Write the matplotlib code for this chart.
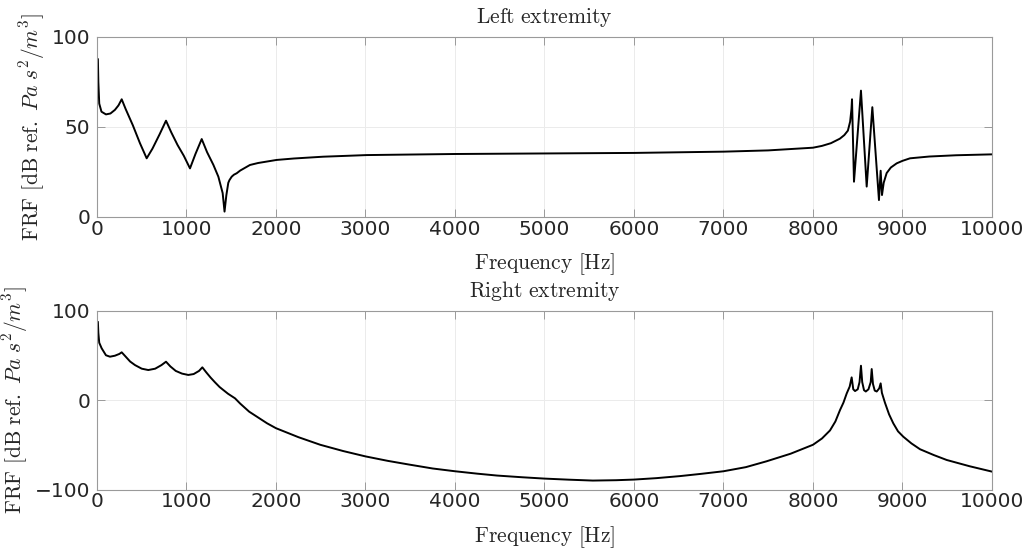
import matplotlib
matplotlib.use("Agg")
import matplotlib.pyplot as plt

# ---- data ----
top_freq = [10, 15, 25, 50, 100, 150, 200, 240, 276, 320, 400, 480, 555, 620, 700, 771,
            830, 900, 970, 1039, 1100, 1170, 1230, 1300, 1356, 1404, 1425, 1445, 1467,
            1480, 1505, 1530, 1561, 1600, 1709, 1800, 2007, 2200, 2527, 2800, 3013,
            3500, 4000, 5000, 6000, 7000, 7500, 8000, 8100, 8200, 8300, 8350, 8390,
            8415, 8430, 8436, 8458, 8536, 8600, 8663, 8737, 8756, 8771, 8790,
            8823, 8870, 8935, 9000, 9084, 9300, 9600, 10000]
top_db = [87.6, 75, 63, 58.5, 57, 57.5, 59.5, 62, 65.4, 60, 51, 41, 32.6, 38, 46, 53.5,
          47, 40, 34, 27, 35, 43.3, 36, 29, 22.4, 13.3, 3, 12, 19,
          20.5, 22.4, 23.5, 24.3, 25.8, 28.9, 30, 31.7, 32.5, 33.5, 34, 34.4,
          34.7, 35, 35.3, 35.6, 36.3, 37, 38.5, 39.5, 41, 43.5, 45.5, 48,
          53, 60, 65.4, 19.6, 70.2, 16.9, 61, 9.4, 25.7, 12.2, 19,
          24.4, 27.5, 29.8, 31.2, 32.6, 33.6, 34.3, 34.8]

bot_freq = [10, 15, 25, 52, 100, 145, 200, 250, 276, 320, 370, 425, 500, 573, 650, 720,
            771, 820, 880, 950, 1020, 1080, 1140, 1177, 1220, 1270, 1318, 1370, 1411,
            1464, 1542, 1600, 1700, 1800, 1900, 2000, 2250, 2494, 2750, 3000, 3250,
            3480, 3750, 4000, 4250, 4470, 4750, 5000, 5270, 5540, 5800, 6000, 6250,
            6515, 6750, 7000, 7250, 7480, 7750, 8000, 8100, 8190, 8250, 8302, 8340,
            8377, 8410, 8432, 8450, 8470, 8500, 8520, 8536, 8550, 8570, 8590, 8620,
            8645, 8656, 8670, 8690, 8712, 8740, 8756, 8770, 8804, 8850, 8897, 8950,
            9009, 9100, 9196, 9350, 9494, 9750, 10000]
bot_db = [87, 75, 64, 57.8, 50, 48.4, 49.5, 51.5, 53.3, 48.5, 43, 39, 35, 33.5, 35, 39,
          42.8, 37.5, 32.5, 29.5, 28, 29, 32.5, 36.5, 31, 25, 19.8, 14.5, 11.2,
          7, 1.9, -4, -13, -19.5, -26, -31.5, -41.5, -50, -57, -63, -68,
          -72, -76.5, -79.6, -82.3, -84.4, -86.3, -87.8, -89, -90, -89.6, -88.9, -87.3,
          -85, -82.5, -79.6, -75, -68.5, -60, -50, -43, -34, -24, -11.2, -3,
          7.4, 15, 25.3, 12, 10, 12, 20, 38.3, 20, 11, 9.5, 12,
          20, 34.6, 18, 10.5, 9.5, 13, 18.6, 8, -3, -16, -26, -35,
          -41, -48.5, -55, -61.5, -67, -74, -80]

xticks = [0, 1000, 2000, 3000, 4000, 5000, 6000, 7000, 8000, 9000, 10000]
top_yticks = [0, 50, 100]
bot_yticks = [-100, 0, 100]
titles = ["Left extremity", "Right extremity"]

plt.rcParams['mathtext.fontset'] = 'cm'
plt.rcParams['font.family'] = ['DejaVu Sans']

fig = plt.figure(figsize=(10.33, 5.53), dpi=100)
ax1 = fig.add_axes([0.0939, 0.6076, 0.8664, 0.3255])
ax2 = fig.add_axes([0.0939, 0.1148, 0.8664, 0.3237])

ylabel = r'$\mathrm{FRF\ [dB\ ref.}\ Pa\ s^2/m^3]$'
xlabel = r'$\mathrm{Frequency\ [Hz]}$'

for ax, f, d, yt, yl, title in [
        (ax1, top_freq, top_db, top_yticks, (0, 100), titles[0]),
        (ax2, bot_freq, bot_db, bot_yticks, (-100, 100), titles[1])]:
    ax.plot(f, d, color='black', lw=1.4)
    ax.set_xlim(0, 10000)
    ax.set_ylim(*yl)
    ax.set_xticks(xticks)
    ax.set_yticks(yt)
    ax.grid(True, color='#ebebeb', lw=0.7)
    ax.set_axisbelow(True)
    ax.tick_params(direction='in', top=True, right=True, length=6, width=0.7,
                   color='#9a9a9a', labelsize=14.5, labelcolor='#262626')
    ax.tick_params(axis='y', pad=5)
    ax.tick_params(axis='x', pad=2)
    for s in ax.spines.values():
        s.set_color('#9a9a9a')
        s.set_linewidth(0.8)
    ax.set_xlabel(xlabel, fontsize=15.5, color='#262626', labelpad=9)
    ax.set_ylabel(ylabel, fontsize=15.5, color='#262626', labelpad=3)
    ax.set_title(r'$\mathrm{' + title.replace(' ', r'\ ') + '}$', fontsize=15.5,
                 color='#262626', pad=10)

fig.savefig('out.png', dpi=100)
